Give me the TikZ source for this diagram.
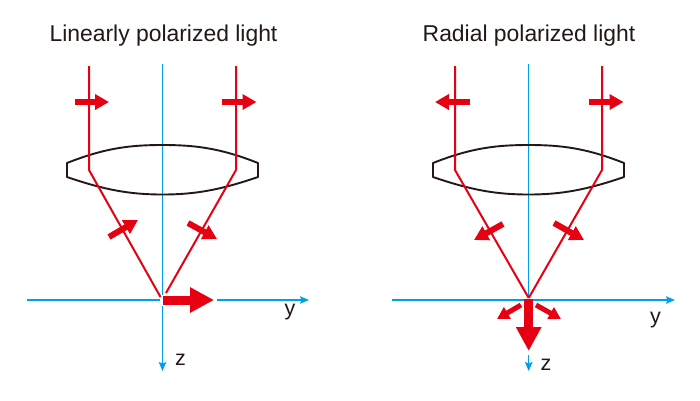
\documentclass[tikz,border=0pt]{standalone}
\usepackage{fontspec}
\setmainfont{Liberation Sans}
\usepackage{xcolor}
\usetikzlibrary{arrows.meta}
\definecolor{ruby}{HTML}{E60012}
\definecolor{sky}{HTML}{00A0E9}
\definecolor{ink}{HTML}{231815}
\tikzset{
  ttl/.style={font=\fontsize{22.9}{24}\selectfont,text=ink,inner sep=0pt},
  lbl/.style={font=\fontsize{21.5}{24}\selectfont,text=ink,inner sep=0pt},
  axis/.style={color=sky,line width=1.2pt},
  axisa/.style={axis,-{Stealth[length=9pt,width=7.5pt,inset=1.5pt]}},
  ray/.style={color=ruby,line width=2pt,line join=round},
  lens/.style={draw=ink,line width=1.9pt,line join=round},
  pol/.style={color=ruby,line width=6pt,-{Triangle[length=14pt,width=15pt]}},
  pols/.style={color=ruby,line width=5pt,-{Triangle[length=12pt,width=13pt]}},
  polb/.style={color=ruby,line width=9pt,-{Triangle[length=24pt,width=24pt]}},
}
\begin{document}
\begin{tikzpicture}[x=1pt,y=-1pt]
\useasboundingbox (0,0) rectangle (700,400);
% left panel
\node[ttl] (t1) at (163.5,36) {Linearly polarized light};
\coordinate (a1t) at (162.5,64);\coordinate (a1m) at (162.5,295);\coordinate (a1n) at (162.5,306);\coordinate (a1b) at (162.5,371);
\coordinate (h1a) at (27,300);\coordinate (h1b) at (160,300);\coordinate (h1c) at (217,300);\coordinate (h1d) at (309,300);
\draw[axis](a1t)--(a1m);\draw[axisa](a1n)--(a1b);\draw[axis](h1a)--(h1b);\draw[axisa](h1c)--(h1d);
\draw[lens] (67,163) .. controls (105,148) and (130,145) .. (162.5,145) .. controls (195,145) and (220,148) .. (258,163) -- (258,177) .. controls (220,190) and (195,194.5) .. (162.5,194.5) .. controls (130,194.5) and (105,190) .. (67,177) -- cycle;
\coordinate (r1a) at (89,66);\coordinate (r1b) at (89,170);\coordinate (r1c) at (160.5,297);
\coordinate (r2a) at (236,66);\coordinate (r2b) at (236,170);\coordinate (r2c) at (166,293);
\draw[ray](r1a)--(r1b)--(r1c);\draw[ray](r2a)--(r2b)--(r2c);
\draw[pol](75,102)--(109,102);\draw[pol](222,102)--(256.5,102);
\draw[pol](109,237)--(138,220);\draw[pol](188,223)--(217,239);
\draw[polb](163,300)--(214,300);
\node[lbl] (y1) at (290,312) {y};
\node[lbl] (z1) at (180.5,360) {z};
% right panel
\node[ttl] (t2) at (529,36) {Radial polarized light};
\coordinate (a2t) at (528.7,64);\coordinate (a2m) at (528.7,298);\coordinate (a2n) at (528.7,355);\coordinate (a2b) at (528.7,371);
\coordinate (h2a) at (392,300);\coordinate (h2b) at (675,300);
\draw[axis](a2t)--(a2m);\draw[axisa](a2n)--(a2b);\draw[axisa](h2a)--(h2b);
\draw[lens] (433,163) .. controls (471,148) and (496,145) .. (528.5,145) .. controls (561,145) and (586,148) .. (624,163) -- (624,177) .. controls (586,190) and (561,194.5) .. (528.5,194.5) .. controls (496,194.5) and (471,190) .. (433,177) -- cycle;
\coordinate (r3a) at (455,66);\coordinate (r3b) at (455,170);\coordinate (f2) at (528.7,298);
\coordinate (r4a) at (602,66);\coordinate (r4b) at (602,170);
\draw[ray](r3a)--(r3b)--(f2);\draw[ray](r4a)--(r4b)--(f2);
\draw[pol](470,102)--(435,102);\draw[pol](589,102)--(623.5,102);
\draw[pol](503,224)--(474,240);\draw[pol](554,223)--(584,240);
\draw[polb](528.7,299)--(528.7,351);
\draw[pols](521,305)--(497,319);\draw[pols](536,305)--(561,319);
\node[lbl] (y2) at (655.5,320) {y};
\node[lbl] (z2) at (546,365) {z};
\end{tikzpicture}
\end{document}
